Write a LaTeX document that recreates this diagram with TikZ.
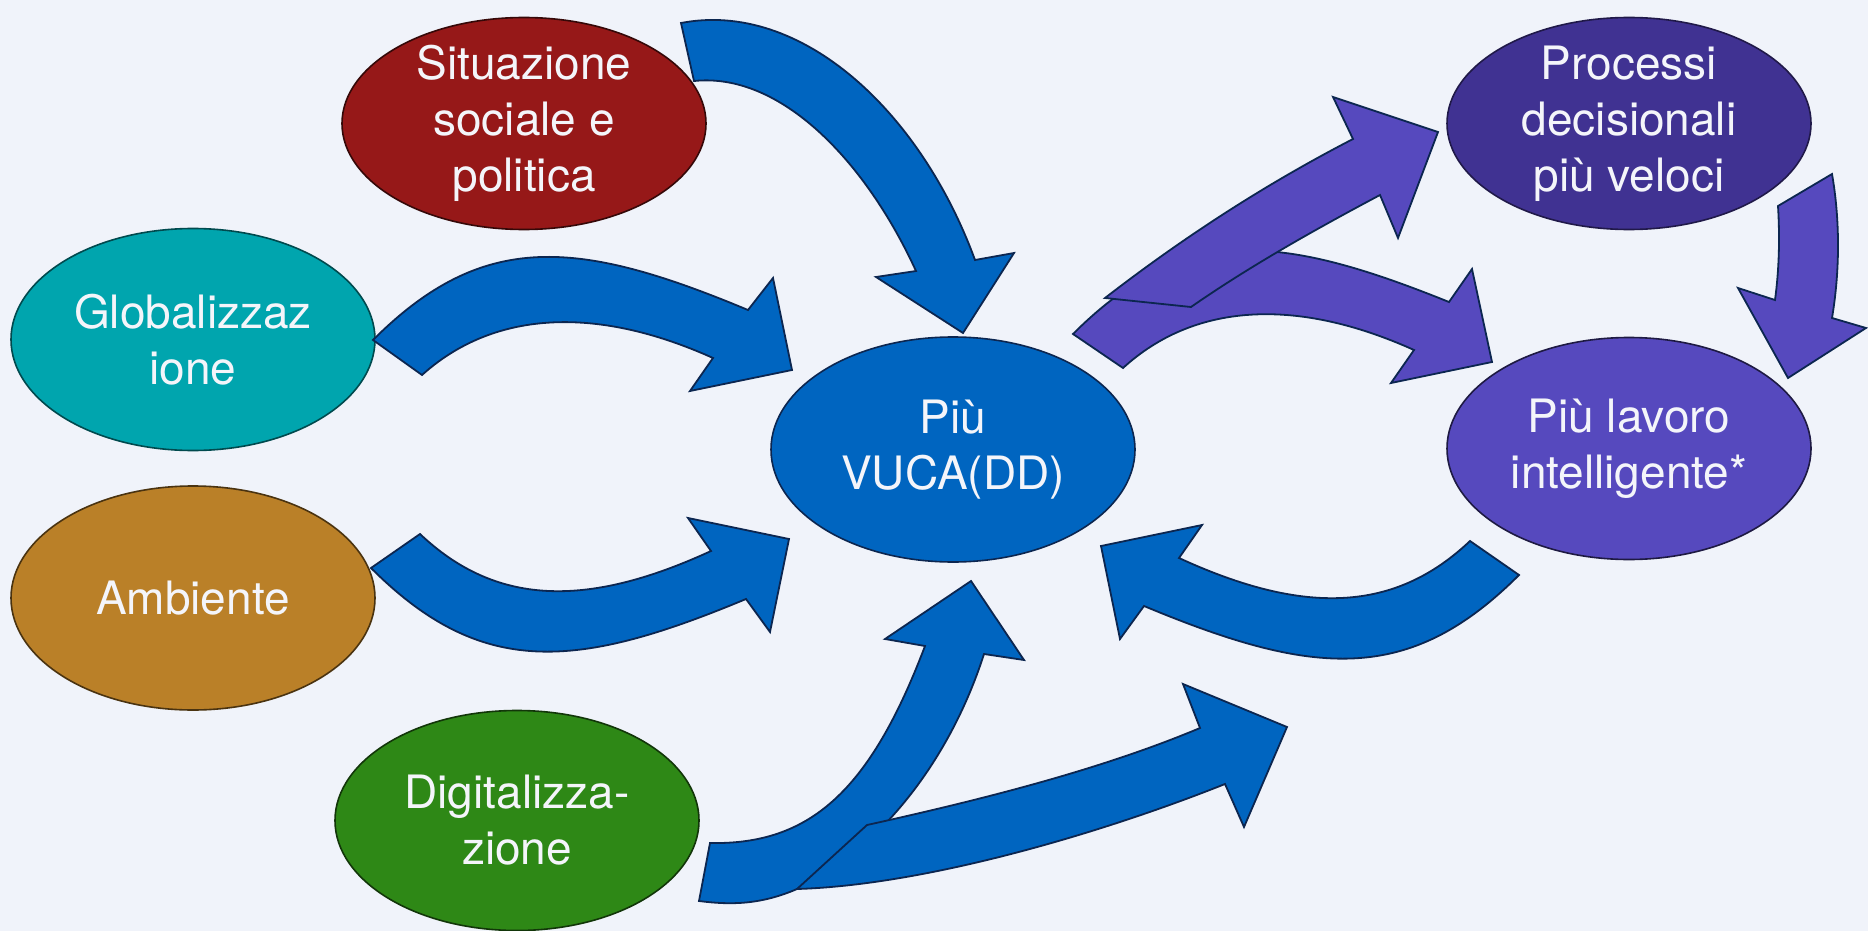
\documentclass[tikz,border=0pt]{standalone}
\usepackage{fontspec}
\setmainfont{TeX Gyre Heros}
\usetikzlibrary{shapes.geometric}

\definecolor{bgcol}{RGB}{240,243,250}
\definecolor{txtcol}{RGB}{244,245,250}
\definecolor{redfill}{RGB}{150,24,24}
\definecolor{tealfill}{RGB}{0,165,174}
\definecolor{ochrefill}{RGB}{186,128,40}
\definecolor{greenfill}{RGB}{46,136,22}
\definecolor{bluefill}{RGB}{0,101,192}
\definecolor{darkpurple}{RGB}{64,50,146}
\definecolor{purplefill}{RGB}{86,73,190}
\definecolor{arrowedge}{RGB}{12,38,80}

\tikzset{
  bubble/.style={ellipse, inner sep=0pt, line width=0.8pt,
    minimum width=182pt, minimum height=111pt},
  label text/.style={text=txtcol, align=center,
    font=\fontsize{23}{28}\selectfont},
  blockarrow/.style={draw=arrowedge, line width=0.9pt, line join=miter, miter limit=10},
  bluearrow/.style={blockarrow, fill=bluefill},
  purplearrow/.style={blockarrow, fill=purplefill},
}

\begin{document}
\begin{tikzpicture}[x=0.5pt, y=-0.5pt]
\fill[bgcol] (0,0) rectangle (1868,931);
\useasboundingbox (0,0) rectangle (1868,931);

% bubbles
\node[bubble, fill=redfill, draw=redfill!35!black, minimum height=106pt] (sit) at (524,123.5) {};
\node[bubble, fill=tealfill, draw=tealfill!45!black] (glob) at (193,339.5) {};
\node[bubble, fill=ochrefill, draw=ochrefill!40!black, minimum height=112pt] (amb) at (193,598) {};
\node[bubble, fill=greenfill, draw=greenfill!40!black, minimum height=110pt] (dig) at (517,820.5) {};
\node[bubble, fill=bluefill, draw=arrowedge, minimum height=112.5pt] (vuca) at (953,449.5) {};
\node[bubble, fill=darkpurple, draw=darkpurple!50!black, minimum height=106pt] (proc) at (1629,123.5) {};
\node[bubble, fill=purplefill, draw=purplefill!35!black] (lav) at (1629,448.5) {};

\node[label text] at (sit) {Situazione\\sociale e\\politica};
\node[label text] at (glob) {Globalizzaz\\ione};
\node[label text] at (amb) {Ambiente};
\node[label text] at (dig) {Digitalizza-\\zione};
\node[label text] at (vuca) {Più\\VUCA(DD)};
\node[label text] at (proc) {Processi\\decisionali\\più veloci};
\node[label text] at (lav) {Più lavoro\\intelligente*};

% social and political situation -> VUCA
\draw[bluearrow] (681,23) .. controls (800,0) and (920,110) .. (975,260)
  -- (1014,253) -- (963,333) -- (876,277) -- (916,271)
  .. controls (865,160) and (780,72) .. (694,81) -- cycle;

% globalisation -> VUCA
\draw[bluearrow] (373,340) .. controls (483,230) and (578,239) .. (748,310)
  -- (773,278) -- (792,370) -- (690,391) -- (713,358)
  .. controls (593,304) and (492,312) .. (422,375) -- cycle;

% environment -> VUCA
\draw[bluearrow] (420,534) .. controls (495,605) and (585,609) .. (711,551)
  -- (688,518) -- (789,539) -- (770,632) -- (746,599)
  .. controls (576,670) and (481,678) .. (371,568) -- cycle;

% smart work -> VUCA
\draw[bluearrow] (1470,541) .. controls (1395,612) and (1305,616) .. (1179,558)
  -- (1202,525) -- (1101,546) -- (1120,639) -- (1144,606)
  .. controls (1314,677) and (1409,685) .. (1519,575) -- cycle;

% digitalisation -> VUCA
\draw[bluearrow] (710,843) .. controls (810,845) and (870,791) .. (925,646)
  -- (885,639) -- (971,581) -- (1024,660) -- (984,654)
  .. controls (950,760) and (880,850) .. (797,889)
  .. controls (760,905) and (730,905) .. (699,901) -- cycle;

% digitalisation -> smart work
\draw[bluearrow] (867,825) .. controls (980,800) and (1100,770) .. (1200,728)
  -- (1183,684) -- (1287,727) -- (1244,827) -- (1225,784)
  .. controls (1110,830) and (930,885) .. (797,889) -- cycle;

% VUCA -> smart work
\draw[purplearrow] (1073,334) .. controls (1183,224) and (1278,233) .. (1449,302)
  -- (1472,269) -- (1492,362) -- (1391,383) -- (1414,350)
  .. controls (1294,296) and (1193,304) .. (1123,368) -- cycle;

% VUCA -> faster decisions
\draw[purplearrow] (1105,298) .. controls (1180,240) and (1262,186) .. (1353,139)
  -- (1333,97) -- (1438,132) -- (1398,238) -- (1380,195)
  .. controls (1316,229) and (1250,266) .. (1191,307) -- cycle;

% faster decisions -> smart work
\draw[purplearrow] (1778,206) .. controls (1780,240) and (1779,270) .. (1775,300)
  -- (1738,288) -- (1788,378) -- (1866,328) -- (1832,318)
  .. controls (1840,270) and (1840,220) .. (1832,174) -- cycle;
\end{tikzpicture}
\end{document}
